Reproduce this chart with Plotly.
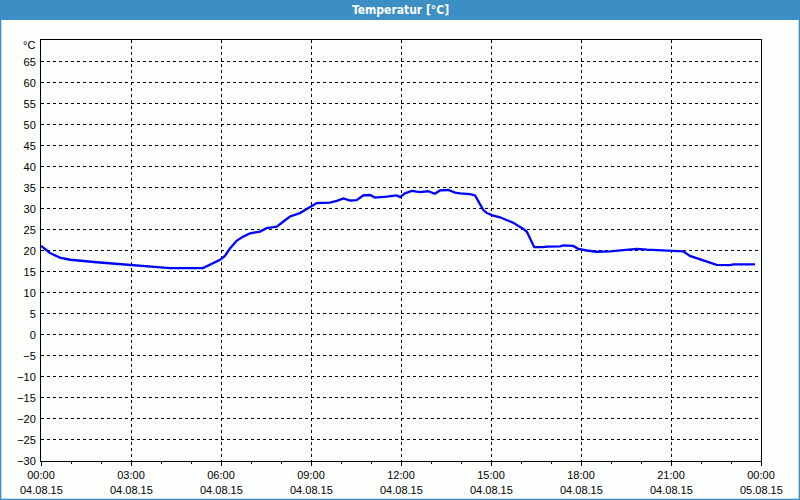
import plotly.graph_objects as go

# hours since 04.08.15 00:00
hours = [0, 0.3, 0.63, 0.97, 1.86, 2.97, 4.3, 5.4, 5.63, 5.97, 6.13, 6.3, 6.52, 6.74, 6.97,
         7.3, 7.52, 7.86, 8.08, 8.3, 8.63, 8.97, 9.19, 9.63, 9.86, 10.08, 10.3, 10.52, 10.74,
         10.97, 11.13, 11.52, 11.86, 11.97, 12.13, 12.36, 12.63, 12.9, 13.13, 13.3, 13.58,
         13.8, 13.97, 14.3, 14.47, 14.58, 14.74, 14.86, 15.08, 15.3, 15.52, 15.74, 16.08,
         16.19, 16.3, 16.44, 16.74, 16.86, 17.3, 17.41, 17.74, 17.91, 18.19, 18.52, 18.97,
         19.52, 19.86, 20.19, 20.97, 21.41, 21.63, 21.86, 22.19, 22.41, 22.52, 22.97, 23.08, 23.8]
temps = [21.2, 19.5, 18.4, 17.9, 17.3, 16.7, 15.9, 15.9, 16.7, 17.9, 18.8, 20.6, 22.4, 23.4, 24.2,
         24.6, 25.4, 25.8, 27.0, 28.2, 29.0, 30.4, 31.4, 31.5, 31.9, 32.5, 32.0, 32.1, 33.2,
         33.3, 32.7, 32.9, 33.2, 32.8, 33.7, 34.3, 34.0, 34.2, 33.6, 34.4, 34.5,
         33.9, 33.7, 33.5, 33.2, 31.8, 29.8, 29.0, 28.4, 28.0, 27.4, 26.7, 25.2,
         24.6, 23.0, 20.9, 20.9, 21.0, 21.1, 21.3, 21.2, 20.5, 20.1, 19.8, 19.9,
         20.2, 20.5, 20.3, 20.1, 19.9, 18.8, 18.3, 17.6, 17.1, 16.7, 16.6, 16.8, 16.8]

x_tickvals = [0, 3, 6, 9, 12, 15, 18, 21, 24]
x_times = ["00:00", "03:00", "06:00", "09:00", "12:00", "15:00", "18:00", "21:00", "00:00"]
x_dates = ["04.08.15"] * 8 + ["05.08.15"]
y_tickvals = list(range(-30, 70, 5))

W, H = 800, 500
L, R, T, B = 41, 39, 40, 39
ph = H - T - B
pw = W - L - R

def py(pix):
    return 1 - (pix - T) / ph

def px(pix):
    return (pix - L) / pw

FONT = "Liberation Sans"
BLUE = "#3b8fc4"

fig = go.Figure()
fig.add_trace(go.Scatter(x=hours, y=temps, mode="lines",
                         line=dict(color="#0000ff", width=2.3), hoverinfo="skip"))

fig.update_layout(
    width=W, height=H, margin=dict(l=L, r=R, t=T, b=B),
    paper_bgcolor="#fcfefc", plot_bgcolor="#fcfefc", showlegend=False,
    font=dict(family=FONT, size=11, color="#000000"),
)
fig.update_xaxes(range=[0, 24], tickvals=x_tickvals, ticktext=x_times,
                 showgrid=True, gridcolor="#000000", griddash="3px,3px", gridwidth=1,
                 showline=True, linecolor="#000000", linewidth=1, mirror=True,
                 ticks="outside", ticklen=4, tickcolor="#000000",
                 minor=dict(dtick=1, tick0=0, ticks="outside", ticklen=2, tickcolor="#000000", showgrid=False),
                 zeroline=False, tickfont=dict(family=FONT, size=11))
fig.update_yaxes(range=[-30, 70.2], tickvals=y_tickvals,
                 showgrid=True, gridcolor="#000000", griddash="3px,3px", gridwidth=1,
                 showline=True, linecolor="#000000", linewidth=1, mirror=True,
                 ticks="", zeroline=False, ticklabelstandoff=2,
                 tickfont=dict(family=FONT, size=11))

# date line below time labels
for xv, d in zip(x_tickvals, x_dates):
    fig.add_annotation(x=xv, xref="x", y=py(490), yref="paper", text=d, showarrow=False,
                       font=dict(family=FONT, size=11, color="#000000"), yanchor="middle")

# unit label
fig.add_annotation(x=px(37), xref="paper", y=py(45), yref="paper", text="°C",
                   showarrow=False, xanchor="right", yanchor="middle",
                   font=dict(family=FONT, size=11, color="#000000"))

# title bar
fig.add_shape(type="rect", xref="paper", yref="paper", x0=px(0), x1=px(W), y0=py(0), y1=py(20),
              fillcolor=BLUE, line=dict(width=0), layer="below")
# window border
fig.add_shape(type="rect", xref="paper", yref="paper", x0=px(0.5), x1=px(W - 0.5), y0=py(0.5), y1=py(H - 0.5),
              fillcolor="rgba(0,0,0,0)", line=dict(color=BLUE, width=1.5))
fig.add_annotation(x=px(W / 2), xref="paper", y=py(10), yref="paper",
                   text="<b>Temperatur [°C]</b>", showarrow=False, yanchor="middle",
                   font=dict(family="DejaVu Sans Condensed", size=12, color="#ffffff"))

fig.write_html("out.html")
